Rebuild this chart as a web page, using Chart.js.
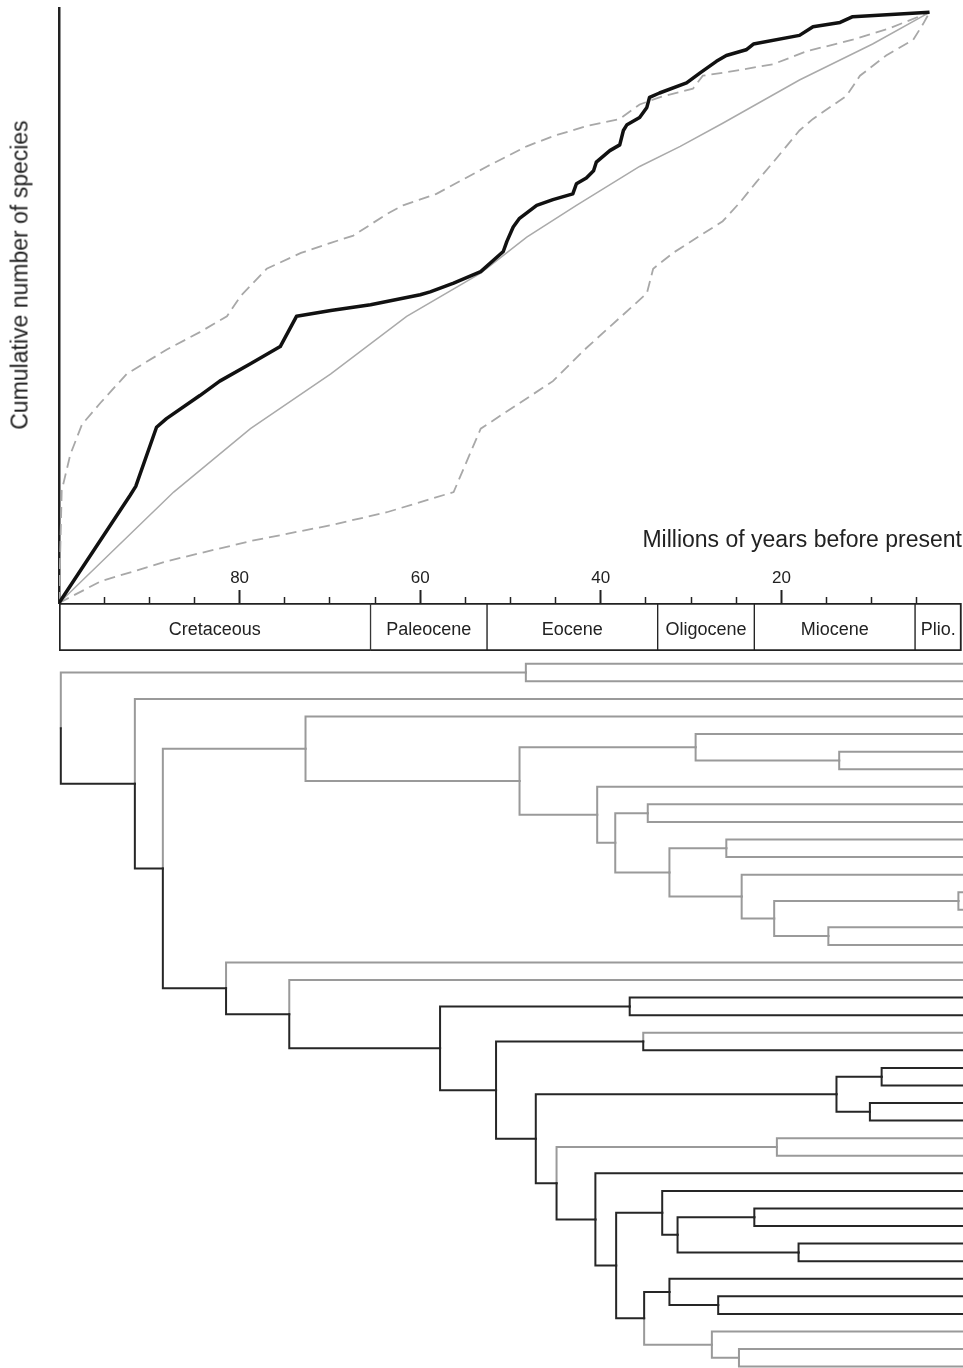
<!DOCTYPE html>
<html>
<head>
<meta charset="utf-8">
<title>Cumulative number of species through time</title>
<script src="https://cdn.jsdelivr.net/npm/chart.js@4.4.1/dist/chart.umd.min.js"></script>
<style>
  html, body { margin: 0; padding: 0; background: #fff; }
  #page { position: relative; width: 963px; height: 1368px; overflow: hidden; }
  .panel { position: absolute; left: 0; width: 963px; }
  #yTitle {
    position: absolute; left: 20px; top: 275px;
    transform: translate(-50%, -50%) rotate(-90deg);
    font: 23px 'Liberation Sans', Arial, sans-serif; color: #222; white-space: nowrap;
  }
</style>
</head>
<body>
<div id="page">
  <div class="panel" style="top:0;height:606px"><canvas id="lttChart"></canvas></div>
  <div class="panel" style="top:500px;height:156px"><canvas id="timeChart"></canvas></div>
  <div class="panel" style="top:655px;height:713px"><canvas id="treeChart"></canvas></div>
  <div id="yTitle">Cumulative number of species</div>
</div>
<script>
// lineage-through-time curves (age in My before present, cumulative species)
const observedAge = [100, 92.1, 91.5, 89.2, 88.1, 84.4, 82.2, 78.8, 75.5, 73.7, 69.9, 65.5, 60.0, 58.9, 56.3, 53.3, 50.8, 50.4, 49.7, 49.0, 47.1, 45.3, 43.1, 42.7, 41.6, 40.8, 40.5, 39.0, 37.9, 37.5, 37.1, 35.7, 34.9, 34.6, 33.5, 30.5, 29.0, 27.2, 26.1, 23.9, 23.1, 18.0, 16.5, 13.5, 12.1, 3.6];
const observedSpecies = [0, 7.5, 8.1, 12.2, 12.8, 14.4, 15.4, 16.6, 17.8, 19.9, 20.3, 20.7, 21.4, 21.6, 22.2, 23.0, 24.4, 25.1, 26.1, 26.7, 27.6, 28.0, 28.4, 29.1, 29.5, 30.0, 30.6, 31.4, 31.8, 32.8, 33.2, 33.7, 34.4, 35.1, 35.4, 36.1, 36.8, 37.6, 38.0, 38.4, 38.8, 39.4, 40.0, 40.3, 40.7, 41.0];

const expectedAge = [100, 87.3, 78.8, 69.9, 61.5, 53.3, 48.2, 42.7, 35.7, 31.2, 26.5, 18.0, 9.9, 3.6];
const expectedSpecies = [0, 7.7, 12.1, 15.9, 19.9, 22.9, 25.4, 27.6, 30.3, 31.7, 33.3, 36.3, 38.8, 41.0];

const upperAge = [100, 99.7, 98.75, 97.45, 95.4, 92.5, 88.05, 84.4, 81.4, 79.9, 77.0, 73.2, 69.9, 67.4, 63.7, 61.9, 58.2, 52.6, 48.2, 45.3, 41.6, 37.9, 35.7, 33.5, 29.8, 28.7, 26.5, 20.9, 17.2, 12.1, 8.0, 3.6];
const upperSpecies = [0, 7.8, 10.3, 12.4, 13.9, 15.9, 17.6, 18.8, 19.9, 21.3, 23.2, 24.3, 25.0, 25.5, 27.0, 27.6, 28.4, 30.3, 31.7, 32.4, 33.1, 33.6, 34.6, 35.1, 35.7, 36.6, 36.8, 37.4, 38.3, 39.1, 39.9, 41.0];

const lowerAge = [100, 95.4, 88.05, 78.8, 69.9, 63.7, 56.3, 53.3, 45.3, 41.6, 34.9, 34.2, 32.0, 26.5, 24.6, 22.8, 20.9, 18.0, 16.5, 12.8, 11.3, 8.4, 5.4, 4.3, 3.6];
const lowerSpecies = [0, 1.5, 2.9, 4.3, 5.4, 6.3, 7.7, 12.1, 15.4, 17.7, 21.5, 23.2, 24.3, 26.5, 27.8, 29.2, 30.6, 32.8, 33.6, 35.2, 36.6, 38.0, 39.1, 40.2, 41.0];

// time axis
const labelledTicks = [80, 60, 40, 20];
const epochNames = ['Cretaceous', 'Paleocene', 'Eocene', 'Oligocene', 'Miocene', 'Plio.'];
const epochOlder = [100, 65.5, 52.6, 33.7, 23.0, 5.2];
const epochYounger = [65.5, 52.6, 33.7, 23.0, 5.2, 0];

// phylogeny: internal nodes, their ages (My) and children (upper, lower); tips are t0..t40 at age 0
const nodeNames = ['root', 'A', 'B', 'C', 'D', 'E', 'F', 'G', 'H', 'I', 'J', 'K', 'L', 'M', 'N', 'O', 'P', 'Q', 'R', 'S', 'T', 'U', 'V', 'W', 'X', 'Y', 'Z', 'AA', 'AB', 'AC', 'AD', 'AE', 'AF', 'AG', 'AH', 'AI', 'AJ', 'AK', 'AL', 'AM'];
const nodeAges = [99.8, 48.3, 91.6, 88.5, 72.7, 49.0, 29.5, 13.6, 40.4, 38.4, 34.8, 32.4, 26.1, 24.4, 20.8, 0.4, 14.8, 81.5, 74.5, 57.8, 36.8, 51.6, 35.3, 47.2, 13.9, 8.9, 10.2, 44.9, 20.5, 40.6, 38.3, 33.2, 31.5, 23.0, 18.1, 35.2, 32.4, 27.0, 27.7, 24.7];
const upperChild = ['A', 't0', 't2', 'D', 't3', 'F', 't4', 't5', 't7', 'J', 't8', 'L', 't10', 't12', 'O', 't13', 't15', 't17', 't18', 'T', 't19', 'V', 't21', 'X', 'Y', 't23', 't25', 'AB', 't27', 't29', 'AE', 't30', 'AG', 't31', 't33', 'AJ', 't35', 't36', 't38', 't39'];
const lowerChild = ['B', 't1', 'C', 'Q', 'E', 'H', 'G', 't6', 'I', 'K', 't9', 'M', 't11', 'N', 'P', 't14', 't16', 'R', 'S', 'U', 't20', 'W', 't22', 'AA', 'Z', 't24', 't26', 'AC', 't28', 'AD', 'AI', 'AF', 'AH', 't32', 't34', 'AL', 'AK', 't37', 'AM', 't40'];
// branches (named by the node they lead to) drawn in black; all others grey
const blackBranches = ['B', 'C', 'Q', 'R', 'S', 'T', 't19', 't20', 'U', 'V', 't22', 'W', 'X', 'Y', 'Z', 't23', 't24', 't25', 't26', 'AA', 'AC', 't29', 'AD', 'AE', 't30', 'AF', 'AG', 'AH', 't31', 't32', 't33', 't34', 'AI', 'AJ', 't35', 'AK', 't36', 't37'];

Chart.defaults.font.family = "'Liberation Sans', Arial, sans-serif";
Chart.defaults.color = '#222';
Chart.defaults.animation = false;

const toPoints = (ages, values) => ages.map((a, i) => ({x: a, y: values[i]}));
const noChrome = {legend: {display: false}, tooltip: {enabled: false}};
const isMajor = ctx => ctx.tick && labelledTicks.includes(ctx.tick.value);
const hideEnds = ctx => (ctx.tick && (ctx.tick.value === 0 || ctx.tick.value === 100)) ? 'rgba(0,0,0,0)' : '#222';

// top panel: cumulative number of species
new Chart(document.getElementById('lttChart'), {
    type: 'scatter',
    data: {
        datasets: [
            {label: 'Observed', data: toPoints(observedAge, observedSpecies), showLine: true, pointRadius: 0,
             borderColor: '#111', borderWidth: 3.5, borderJoinStyle: 'round'},
            {label: 'Expected', data: toPoints(expectedAge, expectedSpecies), showLine: true, pointRadius: 0,
             borderColor: '#aaa', borderWidth: 1.5},
            {label: 'Upper limit', data: toPoints(upperAge, upperSpecies), showLine: true, pointRadius: 0,
             borderColor: '#a8a8a8', borderWidth: 1.8, borderDash: [11, 6]},
            {label: 'Lower limit', data: toPoints(lowerAge, lowerSpecies), showLine: true, pointRadius: 0,
             borderColor: '#a8a8a8', borderWidth: 1.8, borderDash: [11, 6]}
        ]
    },
    options: {
        responsive: true,
        maintainAspectRatio: false,
        layout: {padding: {left: 59, right: 1, top: 8, bottom: 3}},
        plugins: noChrome,
        scales: {
            x: {type: 'linear', min: 0, max: 100, reverse: true, display: false},
            y: {type: 'linear', min: 0, max: 41.3,
                grid: {display: false, drawTicks: false},
                ticks: {display: false},
                border: {display: true, color: '#222', width: 2.5}}
        }
    }
});

// middle panel: geological time scale with the age axis
const epochLabels = {
    id: 'epochLabels',
    afterDatasetsDraw(chart) {
        const ctx = chart.ctx;
        ctx.save();
        ctx.font = "18px 'Liberation Sans', Arial, sans-serif";
        ctx.fillStyle = '#222';
        ctx.textAlign = 'center';
        ctx.textBaseline = 'middle';
        chart.data.datasets.forEach((ds, i) => {
            const c = chart.getDatasetMeta(i).data[0].getCenterPoint();
            ctx.fillText(ds.label, c.x, c.y + 3);
        });
        ctx.restore();
    }
};

new Chart(document.getElementById('timeChart'), {
    type: 'bar',
    data: {
        labels: [''],
        datasets: epochNames.map((name, i) => ({
            label: name,
            data: [[epochYounger[i], epochOlder[i]]],
            backgroundColor: '#fff',
            borderColor: '#222',
            borderWidth: {top: 2, bottom: 2, left: i === 0 ? 2 : 1, right: i === epochNames.length - 1 ? 2 : 1},
            borderSkipped: false,
            grouped: false,
            barPercentage: 1,
            categoryPercentage: 1
        }))
    },
    options: {
        indexAxis: 'y',
        responsive: true,
        maintainAspectRatio: false,
        layout: {padding: {left: 59, right: 1, top: 27, bottom: 5}},
        plugins: {
            legend: {display: false},
            tooltip: {enabled: false},
            title: {display: true, text: 'Millions of years before present', align: 'end', color: '#222',
                    font: {size: 23, weight: 'normal'}, padding: {top: 0, bottom: 13}}
        },
        scales: {
            y: {display: false},
            x: {type: 'linear', position: 'top', min: 0, max: 100, reverse: true,
                ticks: {stepSize: 5, padding: 1, autoSkip: false, maxRotation: 0, font: {size: 17}, color: '#222',
                        callback: v => labelledTicks.includes(v) ? String(v) : ''},
                grid: {drawOnChartArea: false, tickLength: 13,
                       tickWidth: ctx => isMajor(ctx) ? 2 : 1.5,
                       tickColor: hideEnds,
                       tickBorderDash: ctx => isMajor(ctx) ? [] : [6, 7],
                       tickBorderDashOffset: ctx => isMajor(ctx) ? 0 : 6},
                border: {display: false}}
        }
    },
    plugins: [epochLabels]
});

// bottom panel: phylogeny, tips stacked top to bottom
const tipY = {};
let nextTip = 0;
function place(name) {
    const k = nodeNames.indexOf(name);
    if (k < 0) {
        tipY[name] = nextTip++;
    } else {
        tipY[name] = (place(upperChild[k]) + place(lowerChild[k])) / 2;
    }
    return tipY[name];
}
place('root');
const ageOf = name => nodeNames.includes(name) ? nodeAges[nodeNames.indexOf(name)] : 0;

const branchSets = [];
nodeNames.forEach((parent, k) => {
    [upperChild[k], lowerChild[k]].forEach(child => {
        const black = blackBranches.includes(child);
        branchSets.push({
            data: [
                {x: nodeAges[k], y: tipY[parent]},
                {x: nodeAges[k], y: tipY[child]},
                {x: ageOf(child), y: tipY[child]}
            ],
            showLine: true,
            pointRadius: 0,
            borderWidth: 2,
            borderColor: black ? '#262626' : '#9a9a9a',
            borderCapStyle: 'square',
            borderJoinStyle: 'miter',
            order: black ? 0 : 1,
            clip: false
        });
    });
});

new Chart(document.getElementById('treeChart'), {
    type: 'scatter',
    data: {datasets: branchSets},
    options: {
        responsive: true,
        maintainAspectRatio: false,
        layout: {padding: {left: 59, right: 1, top: 0, bottom: 0}},
        plugins: noChrome,
        scales: {
            x: {type: 'linear', min: 0, max: 100, reverse: true, display: false},
            y: {type: 'linear', min: -0.5, max: 40.08, reverse: true, display: false}
        }
    }
});
</script>
</body>
</html>
